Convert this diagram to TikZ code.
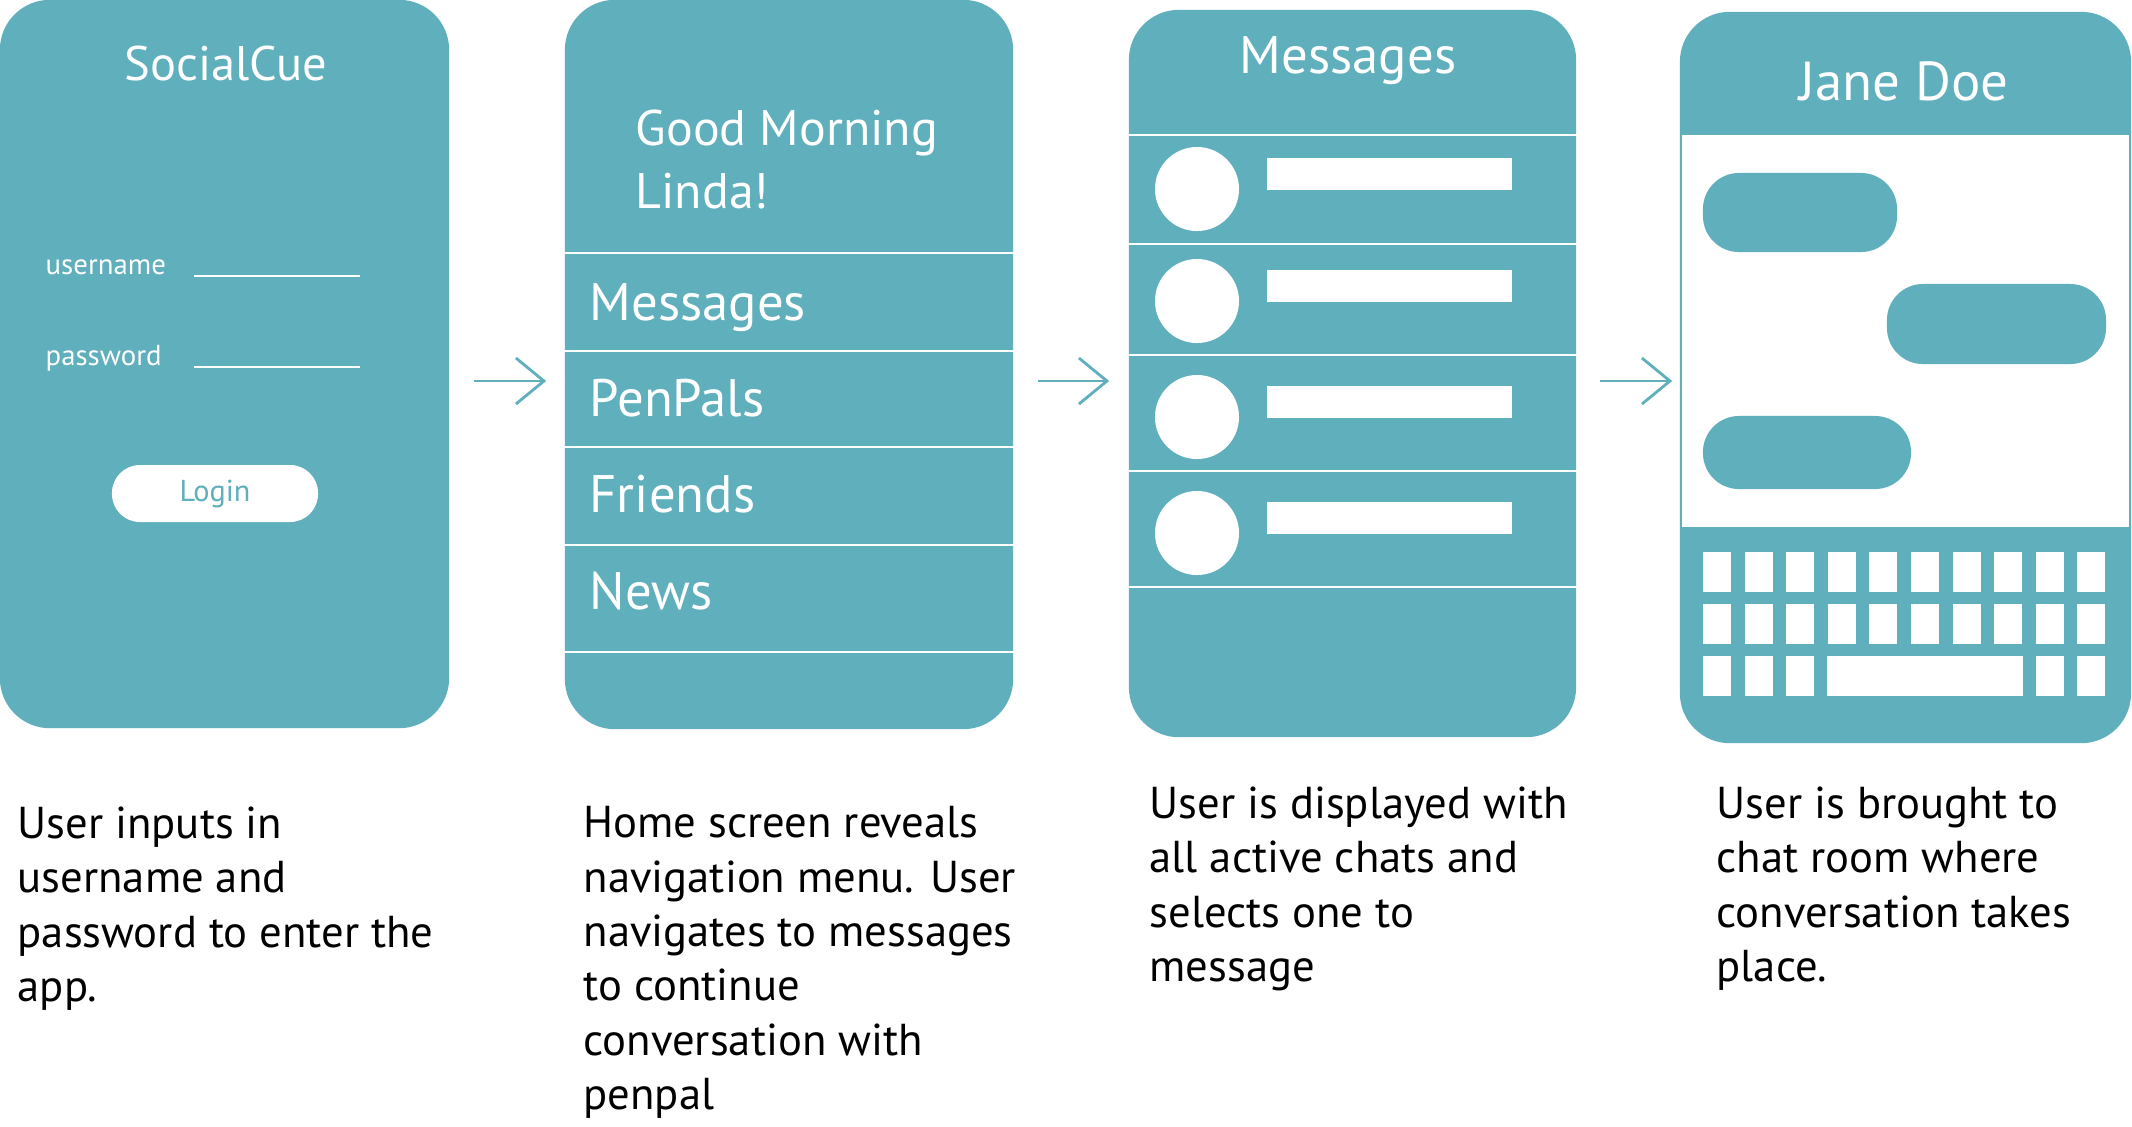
\documentclass[tikz,border=0pt]{standalone}
\usepackage{fontspec}
\setmainfont{PT Sans}
\usepackage{tikz}
\usetikzlibrary{arrows.meta}
\definecolor{cue}{RGB}{95,175,188}

\begin{document}
\begin{tikzpicture}[x=0.01cm, y=-0.01cm,
  screen/.style = {fill=cue, rounded corners=0.5cm, inner sep=0pt},
  divider/.style = {white, line width=0.6pt},
  title/.style = {white, anchor=base, inner sep=0pt, font=\fontsize{15}{18}\selectfont},
  menu/.style = {white, anchor=base west, inner sep=0pt, font=\fontsize{15}{18}\selectfont},
  field/.style = {white, anchor=base west, inner sep=0pt, font=\fontsize{8.2}{10}\selectfont},
  caption/.style = {anchor=north west, align=left, inner sep=0pt, font=\fontsize{12.7}{15.45}\selectfont},
  flow/.style = {cue, line width=0.8pt, -{Straight Barb[length=0.28cm, width=0.46cm]}},
  avatar/.style = {circle, fill=white, minimum size=0.84cm, inner sep=0pt},
  bar/.style = {fill=white, minimum width=2.45cm, minimum height=0.32cm, inner sep=0pt},
  bubble/.style = {fill=cue, rounded corners=0.36cm, inner sep=0pt},
  keycap/.style = {fill=white, minimum width=0.28cm, minimum height=0.4cm, inner sep=0pt}]
  \useasboundingbox (0,0) rectangle (2132,1126);

  \node[screen, minimum width=4.49cm, minimum height=7.28cm] (login) at (224.5,364) {};
  \node[screen, minimum width=4.48cm, minimum height=7.29cm] (home) at (789,364.5) {};
  \node[screen, minimum width=4.47cm, minimum height=7.27cm] (chats) at (1352.5,373.5) {};
  \node[screen, minimum width=4.51cm, minimum height=7.31cm] (chatroom) at (1905.5,377.5) {};

  \coordinate (lane) at (0,381);
  \draw[flow, shorten <=0.24cm, shorten >=0.18cm] (login.east |- lane) -- (home.west |- lane);
  \draw[flow, shorten <=0.24cm, shorten >=0.19cm] (home.east |- lane) -- (chats.west |- lane);
  \draw[flow, shorten <=0.23cm, shorten >=0.07cm] (chats.east |- lane) -- (chatroom.west |- lane);

  \node[title, font=\fontsize{13.8}{18}\selectfont] (appname) at (226,80) {SocialCue};
  \node[field] (user) at (45,274) {username};
  \node[field] (pass) at (45,365) {password};
  \draw[divider] (194,276) -- (360,276);
  \draw[divider] (194,367) -- (360,367);
  \node[fill=white, rounded corners=0.28cm, minimum width=2.06cm, minimum height=0.57cm,
        inner sep=0pt, text=cue, font=\fontsize{8.6}{10}\selectfont] (loginbtn) at (215,493.5) {Login};

  \node[menu, font=\fontsize{14.2}{18}\selectfont] (greet) at (635,145) {Good Morning};
  \node[menu, font=\fontsize{14.2}{18}\selectfont] (name) at (635,208) {Linda!};
  \foreach \yy in {253,351,447,545,652}
    \draw[divider] (home.west |- 0,\yy) -- (home.east |- 0,\yy);
  \node[menu] (mmessages) at (589,320) {Messages};
  \node[menu] (mpenpals) at (589,416) {PenPals};
  \node[menu] (mfriends) at (589,512) {Friends};
  \node[menu] (mnews) at (589,609) {News};

  \node[title] (inbox) at (1348,73) {Messages};
  \foreach \yy in {135,244,355,471,587}
    \draw[divider] (chats.west |- 0,\yy) -- (chats.east |- 0,\yy);
  \foreach \i/\yy in {1/189,2/301,3/417,4/533} {
    \node[avatar] (av\i) at (1197,\yy) {};
    \node[bar] (bar\i) at (1389.5,\yy-15) {};
  }

  \node[title, font=\fontsize{15.6}{18}\selectfont] (contact) at (1904,100) {Jane Doe};
  \fill[white] (1682,135) rectangle (2129,527);
  \node[bubble, minimum width=1.94cm, minimum height=0.79cm] (msg1) at (1800,212.5) {};
  \node[bubble, minimum width=2.19cm, minimum height=0.80cm] (msg2) at (1996.5,324) {};
  \node[bubble, minimum width=2.08cm, minimum height=0.73cm] (msg3) at (1807,452.5) {};
  \foreach \r in {0,1}
    \foreach \c in {0,...,9}
      \node[keycap] (k\r\c) at (1717+41.6*\c,572+52*\r) {};
  \foreach \c in {0,1,2,8,9}
    \node[keycap] (k2\c) at (1717+41.6*\c,676) {};
  \node[keycap, minimum width=1.95cm] (space) at (1925,676) {};

  \node[caption] (cap1) at (17,806) {User inputs in\\username and\\password to enter the\\app.};
  \node[caption] (cap2) at (583,806) {Home screen reveals\\navigation menu. User\\navigates to messages\\to continue\\conversation with\\penpal};
  \node[caption] (cap3) at (1149,786) {User is displayed with\\all active chats and\\selects one to\\message};
  \node[caption] (cap4) at (1716,786) {User is brought to\\chat room where\\conversation takes\\place.};

\end{tikzpicture}
\end{document}
